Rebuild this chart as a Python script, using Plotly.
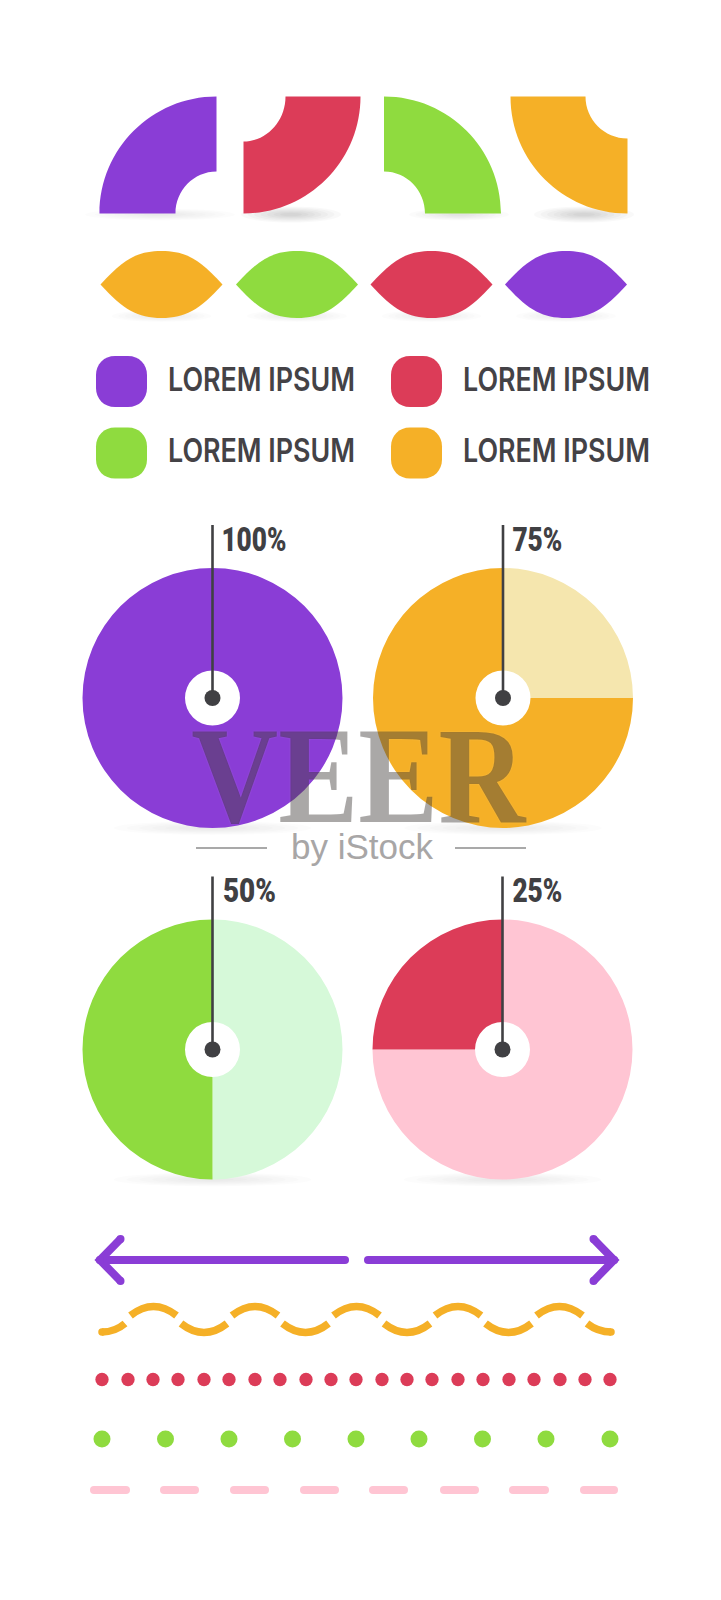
import json
import plotly.graph_objects as go

PURPLE = '#8a3dd6'
RED = '#dc3c58'
GREEN = '#8fdb3f'
ORANGE = '#f5b027'
PINK = '#ffc5d3'
DARK = '#404043'

W = 721
H = 1600

# pies
pie_percent = [100, 75, 50, 25]
pie_labels = ['100%', '75%', '50%', '25%']
pie_colors = [PURPLE, ORANGE, GREEN, RED]
pie_pale = ['#ffffff', '#f5e6ae', '#d6f9d9', PINK]
pie_cx = [212.5, 503, 212.5, 502.5]
pie_cy = [698, 698, 1049.5, 1049.5]
pie_label_x = [254, 537, 249, 537]
PIE_R = 130

# legend
legend_labels = ['LOREM IPSUM'] * 4
legend_colors = [PURPLE, RED, GREEN, ORANGE]
legend_x = [96, 391, 96, 391]
legend_y = [356, 356, 427.5, 427.5]

# leaves
leaf_colors = [ORANGE, GREEN, RED, PURPLE]
leaf_cx = [161.5, 297, 431.5, 566]

# dotted lines
red_dot_x = [102, 128, 153, 178, 204, 229, 255, 280, 306, 331, 356, 382, 407, 432, 458, 483, 509, 534, 560, 585, 610]
red_dot_y = [1379.5] * 21
green_dot_x = [102, 165.5, 229, 292.5, 356, 419, 482.5, 546, 610]
green_dot_y = [1439] * 9
dash_start = [94, 164, 234, 304, 373, 444, 513, 584]
dash_end = [126, 195, 265, 335, 404, 475, 545, 614]
wave_crest_x = [153.5, 255, 356.5, 458, 559.5]
wave_trough_x = [204, 305.5, 407, 508.5]

fig = go.Figure()
shapes = []


def shadow(cx, cy, rx, ry, alpha=0.022):
    for i in range(7):
        k = 1 - i * 0.13
        shapes.append(dict(type='circle', xref='x', yref='y', layer='below',
                           x0=cx - rx * k, x1=cx + rx * k, y0=cy - ry * k, y1=cy + ry * k,
                           fillcolor='rgba(0,0,0,%s)' % alpha, line_width=0))


def blob(path, color):
    shapes.append(dict(type='path', xref='x', yref='y', path=path, fillcolor=color, line_width=0))


def quarter(cx, cy, sx, sy, color, bite_x, bite_y):
    # outer quarter circle with a bite taken out of the corner
    r = 117
    c = r * 0.552
    bx = bite_x * sx
    by = bite_y * sy
    path = 'M %s %s ' % (cx, cy + r * sy)
    path += 'C %s %s %s %s %s %s ' % (cx + c * sx, cy + r * sy, cx + r * sx, cy + c * sy, cx + r * sx, cy)
    path += 'L %s %s ' % (cx + bx, cy)
    path += 'C %s %s %s %s %s %s ' % (cx + bx, cy + by * 0.552, cx + bx * 0.552, cy + by, cx, cy + by)
    blob(path + 'Z', color)


# quarter shapes
shadow(160, 214.5, 75, 6, 0.012)
shadow(291, 214.5, 50, 8)
shadow(459, 214.5, 50, 6, 0.014)
shadow(584, 214.5, 50, 8)
quarter(216.5, 213.5, -1, -1, PURPLE, 41, 42)
quarter(243.5, 96.5, 1, 1, RED, 42, 45)
quarter(384, 213.5, 1, -1, GREEN, 41, 42)
quarter(627.5, 96.5, -1, 1, ORANGE, 42, 42)

# leaves
for cx, color in zip(leaf_cx, leaf_colors):
    shadow(cx, 316, 50, 6, 0.012)
    path = 'M %s 284.5 ' % (cx - 61)
    path += 'C %s 259 %s 251 %s 251 ' % (cx - 38, cx - 24, cx)
    path += 'C %s 251 %s 259 %s 284.5 ' % (cx + 24, cx + 38, cx + 61)
    path += 'C %s 310 %s 318 %s 318 ' % (cx + 38, cx + 24, cx)
    path += 'C %s 318 %s 310 %s 284.5 Z' % (cx - 24, cx - 38, cx - 61)
    blob(path, color)

# legend swatches
for x, y, color in zip(legend_x, legend_y, legend_colors):
    s = 51
    r = 19
    k = 8
    path = 'M %s %s L %s %s ' % (x + r, y, x + s - r, y)
    path += 'C %s %s %s %s %s %s ' % (x + s - k, y, x + s, y + k, x + s, y + r)
    path += 'L %s %s ' % (x + s, y + s - r)
    path += 'C %s %s %s %s %s %s ' % (x + s, y + s - k, x + s - k, y + s, x + s - r, y + s)
    path += 'L %s %s ' % (x + r, y + s)
    path += 'C %s %s %s %s %s %s ' % (x + k, y + s, x, y + s - k, x, y + s - r)
    path += 'L %s %s ' % (x, y + r)
    path += 'C %s %s %s %s %s %s Z' % (x, y + k, x + k, y, x + r, y)
    blob(path, color)

# pies
for i in range(4):
    cx = pie_cx[i]
    cy = pie_cy[i]
    shadow(cx, cy + PIE_R, 99, 7, 0.012)
    fig.add_trace(go.Pie(values=[100 - pie_percent[i], pie_percent[i]],
                         marker=dict(colors=[pie_pale[i], pie_colors[i]], line=dict(width=0)),
                         sort=False, direction='clockwise', rotation=0, hole=27.5 / PIE_R,
                         textinfo='none', hoverinfo='skip', showlegend=False,
                         domain=dict(x=[(cx - PIE_R) / W, (cx + PIE_R) / W],
                                     y=[1 - (cy + PIE_R) / H, 1 - (cy - PIE_R) / H])))
    shapes.append(dict(type='line', xref='x', yref='y', x0=cx, x1=cx, y0=cy - 173, y1=cy,
                       line=dict(color=DARK, width=2.6), layer='above'))
    shapes.append(dict(type='circle', xref='x', yref='y', x0=cx - 8, x1=cx + 8, y0=cy - 8, y1=cy + 8,
                       fillcolor=DARK, line_width=0, layer='above'))

# arrows
arrow_x = [[345, 100, None, 120.5, 100, 120.5], [368, 614, None, 593.5, 614, 593.5]]
arrow_y = [[1260, 1260, None, 1239, 1260, 1281], [1260, 1260, None, 1239, 1260, 1281]]
for xs, ys in zip(arrow_x, arrow_y):
    fig.add_trace(go.Scatter(x=xs, y=ys, mode='lines+markers', hoverinfo='skip', showlegend=False,
                             line=dict(color=PURPLE, width=8),
                             marker=dict(color=PURPLE, size=8)))

# wave
for x in wave_crest_x:
    shapes.append(dict(type='path', xref='x', yref='y',
                       path='M %s 1315.5 Q %s 1297.5 %s 1315.5' % (x - 23, x, x + 23),
                       line=dict(color=ORANGE, width=7.5)))
for x in wave_trough_x:
    shapes.append(dict(type='path', xref='x', yref='y',
                       path='M %s 1323.5 Q %s 1341.5 %s 1323.5' % (x - 23, x, x + 23),
                       line=dict(color=ORANGE, width=7.5)))
shapes.append(dict(type='path', xref='x', yref='y', path='M 102 1332 Q 115 1332 125 1323.5',
                   line=dict(color=ORANGE, width=7.5)))
shapes.append(dict(type='path', xref='x', yref='y', path='M 587 1323.5 Q 598 1332 611 1332',
                   line=dict(color=ORANGE, width=7.5)))
fig.add_trace(go.Scatter(x=[102, 611], y=[1332, 1332], mode='markers', hoverinfo='skip', showlegend=False,
                         marker=dict(color=ORANGE, size=7.5)))

# dotted lines
fig.add_trace(go.Scatter(x=red_dot_x, y=red_dot_y, mode='markers', hoverinfo='skip', showlegend=False,
                         marker=dict(color=RED, size=13.3)))
fig.add_trace(go.Scatter(x=green_dot_x, y=green_dot_y, mode='markers', hoverinfo='skip', showlegend=False,
                         marker=dict(color=GREEN, size=17)))
for x0, x1 in zip(dash_start, dash_end):
    fig.add_trace(go.Scatter(x=[x0, x1], y=[1490, 1490], mode='lines+markers', hoverinfo='skip',
                             showlegend=False, line=dict(color=PINK, width=8),
                             marker=dict(color=PINK, size=8)))

# text
annotations = []


def label(x, y, text, size, color, family, weight='normal', shadow_css=None):
    font = dict(size=size, color=color, family=family, weight=weight)
    if shadow_css:
        font['shadow'] = shadow_css
    annotations.append(dict(x=x, y=y, xref='x', yref='y', text=text, showarrow=False, xanchor='center',
                            yanchor='middle', font=font))


for x, y, text in zip(legend_x, legend_y, legend_labels):
    label(x + 165, y + 23, text, 32, '#444246', 'Inter', weight=600)
for i in range(4):
    label(pie_label_x[i], pie_cy[i] - 159, pie_labels[i], 33, DARK, 'Roboto', weight=900)

# watermark
label(359, 776, 'VEER', 137, 'rgba(20,15,10,0.36)', 'Liberation Serif', weight='bold',
      shadow_css='0 0 2px rgba(255,255,255,0.45)')
label(362, 846, 'by iStock', 35, '#a8a6a6', 'Liberation Sans')
for x0, x1 in [(196, 267), (455, 526)]:
    shapes.append(dict(type='line', xref='x', yref='y', x0=x0, x1=x1, y0=848, y1=848,
                       line=dict(color='#a9a9a9', width=2), layer='above'))

fig.update_layout(width=W, height=H, margin=dict(l=0, r=0, t=0, b=0), autosize=False,
                  paper_bgcolor='white', plot_bgcolor='white', shapes=shapes, annotations=annotations,
                  xaxis=dict(range=[0, W], visible=False, fixedrange=True),
                  yaxis=dict(range=[H, 0], visible=False, fixedrange=True))

# fonts here are wider than the original lettering, so squeeze the labels to the measured widths
text_widths = {'LOREM IPSUM': 187, '100%': 65, '75%': 50, '50%': 53, '25%': 50, 'VEER': 334}
squeeze = """
var widths = %s;
document.body.style.margin = '0';
document.documentElement.style.overflow = 'hidden';
document.querySelectorAll('text.annotation-text').forEach(function (t) {
    var w = widths[t.textContent];
    if (w) {
        t.setAttribute('textLength', w);
        t.setAttribute('lengthAdjust', 'spacingAndGlyphs');
    }
});
""" % json.dumps(text_widths)

fig.write_html('out.html', config={'displayModeBar': False}, post_script=squeeze)
